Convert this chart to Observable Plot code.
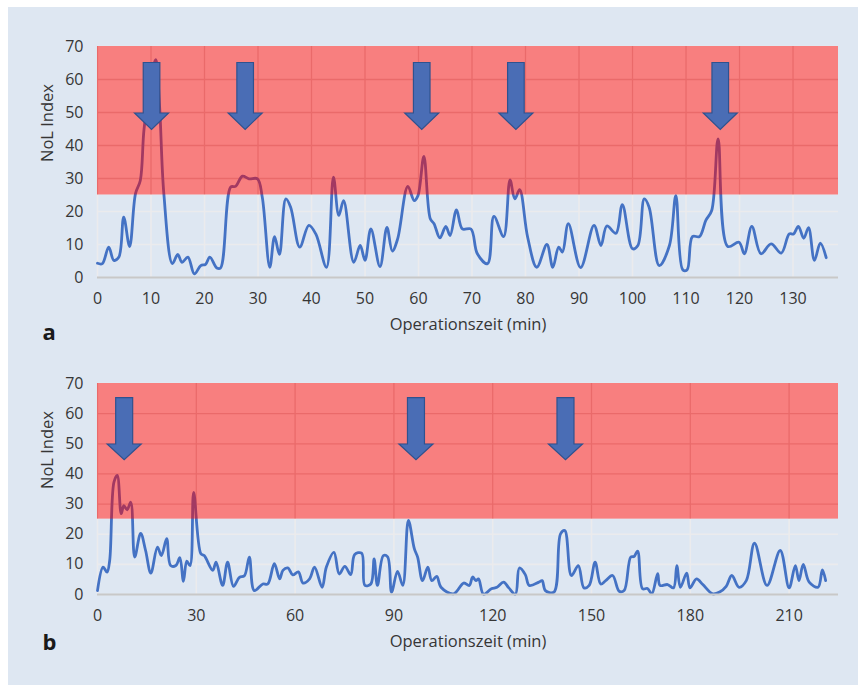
<!DOCTYPE html>
<html>
<head>
<meta charset="utf-8">
<script src="https://cdn.jsdelivr.net/npm/d3@7"></script>
<script src="https://cdn.jsdelivr.net/npm/@observablehq/plot@0.6"></script>
<style>
  html, body { margin: 0; padding: 0; background: #ffffff; }
  #fig { position: relative; width: 858px; height: 685px; background: #ffffff; overflow: hidden; }
  #bg { position: absolute; left: 8px; top: 7px; width: 850px; height: 678px; background: #dee7f2; }
  .panel { position: absolute; left: 0; }
</style>
</head>
<body>
<div id="fig"><div id="bg"></div><div id="pa" class="panel" style="top:0px"></div><div id="pb" class="panel" style="top:345px"></div></div>
<script>
// ---------- data ----------
const xLabel = "Operationszeit (min)";
const yLabel = "NoL Index";
const threshold = 25;
const yTicks = [0, 10, 20, 30, 40, 50, 60, 70];

// Panel a
const xTicksA = [0, 10, 20, 30, 40, 50, 60, 70, 80, 90, 100, 110, 120, 130];
const timeA = [0, 0.9, 2.1, 3.05, 4.0, 4.9, 6.0, 7.1, 8.0, 8.7, 10.0, 10.9, 11.6, 12.4, 14.0, 15.0, 15.8, 16.9, 18.1, 19.3, 20.2, 21.0, 22.3, 23.0, 24.9, 25.8, 27.1, 28.3, 29.9, 30.8, 32.2, 33.1, 34.0, 35.2, 36.1, 37.8, 39.5, 40.8, 42.8, 44.1, 45.1, 46.0, 47.9, 49.1, 50.0, 51.1, 52.8, 54.1, 55.1, 56.1, 58.0, 59.2, 59.9, 61.0, 62.2, 62.9, 64.0, 65.1, 65.9, 67.1, 68.2, 69.8, 71.0, 72.9, 74.1, 75.9, 77.1, 78.0, 78.9, 80.4, 82.1, 84.0, 85.1, 86.2, 86.9, 88.0, 90.3, 92.8, 94.1, 95.2, 96.9, 98.1, 100.0, 101.0, 102.2, 103.1, 105.0, 106.9, 108.1, 109.4, 110.2, 111.2, 112.5, 113.7, 114.8, 116.0, 117.8, 119.9, 120.9, 122.3, 124.0, 125.9, 127.8, 129.3, 130.1, 131.0, 132.0, 132.9, 134.0, 135.1, 136.2];
const nolA = [4.3, 4.2, 9.2, 5.2, 6.2, 18.3, 9.4, 25.4, 29.4, 45, 60, 66, 52, 25.4, 4.2, 7.0, 4.6, 6.2, 1.1, 3.6, 4.0, 6.2, 2.9, 2.9, 27.4, 27.6, 30.7, 29.9, 29.9, 24.3, 3.1, 12.4, 7.0, 23.8, 21.3, 9.2, 15.8, 13.2, 3.1, 30.4, 18.8, 23.3, 4.6, 9.7, 5.2, 14.7, 3.3, 15.2, 8.0, 11.7, 27.6, 23.3, 24.8, 36.7, 17.8, 16.3, 12.0, 15.5, 12.7, 20.5, 14.7, 14.7, 7.2, 4.2, 18.5, 12.4, 29.6, 23.8, 26.6, 12.2, 3.1, 10.0, 3.1, 9.2, 7.7, 16.3, 3.0, 15.8, 9.7, 15.6, 13.4, 22.1, 8.7, 9.7, 23.8, 21.3, 3.6, 9.7, 24.8, 2.3, 2.3, 12.4, 12.4, 17.3, 20.3, 42.0, 9.4, 10.7, 7.2, 15.5, 7.2, 10.2, 7.4, 13.2, 13.2, 15.5, 11.9, 15.1, 5.2, 10.4, 6.0];
const arrowsA = [10.1, 27.6, 60.6, 78.2, 116.4];

// Panel b
const xTicksB = [0, 30, 60, 90, 120, 150, 180, 210];
const timeB = [0, 1.7, 2.9, 3.7, 5.0, 6.0, 7.2, 8.0, 9.0, 10.1, 11.3, 13.1, 14.6, 16.2, 18.2, 19.4, 21.0, 22.2, 23.8, 25.0, 26.1, 27.1, 28.1, 29.2, 31.4, 32.4, 35.0, 36.0, 38.0, 39.5, 41.3, 43.1, 44.6, 46.1, 47.6, 50.2, 51.7, 53.7, 55.3, 56.3, 57.8, 59.3, 61.0, 62.4, 64.4, 65.9, 68.2, 69.5, 71.8, 73.4, 75.1, 76.9, 78.1, 80.2, 81.2, 83.0, 84.0, 85.0, 86.8, 88.1, 89.3, 91.1, 92.7, 94.4, 96.2, 97.2, 98.7, 100.3, 101.5, 103.0, 104.3, 108.1, 111.2, 112.9, 113.9, 114.9, 115.7, 117.2, 119.6, 121.3, 123.3, 124.9, 126.9, 128.1, 129.9, 131.1, 134.0, 135.0, 136.0, 138.6, 140.6, 141.9, 143.9, 146.0, 147.7, 149.3, 151.1, 152.8, 154.3, 156.4, 158.4, 159.9, 161.9, 162.9, 164.0, 165.5, 167.0, 168.3, 170.1, 170.8, 173.1, 174.9, 175.9, 177.0, 178.9, 179.9, 181.9, 183.8, 186.8, 188.9, 190.9, 192.6, 194.8, 197.0, 199.5, 203.3, 207.3, 210.0, 211.9, 213.0, 214.3, 216.1, 218.8, 220.1, 221.1];
const nolB = [1.3, 9.1, 7.4, 11.3, 37.3, 39.5, 26.8, 29.5, 28.1, 30.6, 12.4, 20.3, 14.6, 7.1, 15.7, 12.9, 18.5, 9.6, 9.6, 12.2, 4.4, 11.1, 9.6, 33.9, 13.5, 12.9, 8.0, 10.7, 3.0, 10.7, 2.7, 5.7, 6.2, 12.4, 1.3, 3.5, 3.5, 10.2, 5.2, 8.0, 8.8, 6.5, 7.5, 3.8, 5.2, 9.1, 2.4, 9.1, 14.0, 6.8, 9.3, 6.6, 13.3, 13.7, 3.0, 3.5, 11.8, 3.0, 12.9, 12.5, 0.8, 7.7, 3.0, 24.6, 15.2, 12.4, 4.6, 9.1, 4.6, 6.0, 2.4, 0.2, 3.8, 3.0, 5.8, 4.6, 5.2, 0.1, 1.9, 2.4, 4.1, 2.2, 0.1, 8.8, 6.6, 3.0, 4.1, 4.6, 1.3, 0.8, 20.1, 21.2, 6.3, 9.6, 2.2, 3.0, 10.7, 3.5, 4.6, 6.3, 1.1, 1.3, 12.4, 12.6, 14.4, 1.9, 2.0, 0.2, 6.9, 3.0, 3.3, 2.2, 9.6, 2.4, 7.1, 2.2, 5.2, 3.3, 0.2, 0.8, 2.7, 6.3, 2.4, 4.6, 17.0, 3.0, 14.6, 2.2, 9.6, 4.6, 10.0, 4.1, 2.4, 8.2, 4.6];
const arrowsB = [8.1, 96.7, 142.1];

// ---------- styling ----------
const FONT = "'Open Sans', 'Noto Sans', sans-serif";
const lineColor = "#4472c4";
const gridColor = "#ebebed";
const textColor = "#363636";
const arrowLevel = 55;

function arrowSymbol(h, head, hw, sw) {
  return {
    draw(ctx) {
      ctx.moveTo(-sw, -h);
      ctx.lineTo(sw, -h);
      ctx.lineTo(sw, head);
      ctx.lineTo(hw, head);
      ctx.lineTo(0, h);
      ctx.lineTo(-hw, head);
      ctx.lineTo(-sw, head);
      ctx.closePath();
    }
  };
}

function panel({time, nol, xTicks, xMax, arrows, tag, height, marginTop, marginBottom, sym, tagDy}) {
  const data = time.map((t, i) => ({t, v: nol[i]}));
  const redTicks = yTicks.filter(d => d > threshold && d < 70);
  const zone = {x1: () => 0, x2: () => xMax, y1: () => threshold, y2: () => 70};
  return Plot.plot({
    width: 858,
    height,
    marginTop,
    marginBottom,
    marginLeft: 97,
    marginRight: 20,
    style: {background: "transparent", fontFamily: FONT, fontSize: "16px", color: textColor, overflow: "visible"},
    x: {domain: [0, xMax], ticks: xTicks, tickSize: 0, tickPadding: 15, label: null, tickFormat: d => String(d)},
    y: {domain: [0, 70], ticks: yTicks, tickSize: 0, tickPadding: 14, label: null, tickFormat: d => String(d)},
    marks: [
      Plot.ruleX(xTicks, {stroke: gridColor, strokeWidth: 1.6}),
      Plot.ruleY(yTicks, {stroke: gridColor, strokeWidth: 1.6}),
      // alarm zone: light base + translucent red on top (so the line shows through in purple)
      Plot.rect([0], {...zone, fill: "#f1ffff"}),
      Plot.ruleX(xTicks, {y1: threshold, y2: 70, stroke: "#d4d4d4", strokeWidth: 1.3}),
      Plot.ruleY(redTicks, {stroke: "#d4d4d4", strokeWidth: 1.3}),
      Plot.line(data, {x: "t", y: "v", stroke: lineColor, strokeWidth: 2.8, curve: "catmull-rom"}),
      Plot.rect([0], {...zone, fill: "#ff0000", fillOpacity: 0.5}),
      Plot.ruleY([0], {stroke: "#c8c8c8", strokeWidth: 2}),
      Plot.dot(arrows, {x: d => d, y: () => arrowLevel, symbol: sym, fill: "#4a6db5", stroke: "#2f528f", strokeWidth: 1.2}),
      Plot.text([xLabel], {frameAnchor: "bottom", dy: 52, text: d => d, fontSize: 16.5, fill: textColor}),
      Plot.text([yLabel], {frameAnchor: "left", dx: -50, rotate: -90, text: d => d, fontSize: 16.5, fill: textColor}),
      Plot.text([tag], {frameAnchor: "bottom-left", dx: -55, dy: tagDy, text: d => d, fontSize: 22, fontWeight: "bold", fill: "#1a1a1a", textAnchor: "start"})
    ]
  });
}

document.getElementById("pa").appendChild(panel({
  time: timeA, nol: nolA, xTicks: xTicksA, xMax: 138.5, arrows: arrowsA, tag: "a",
  height: 345, marginTop: 46, marginBottom: 68,
  sym: arrowSymbol(33.5, 17, 17, 8.3), tagDy: 62
}));
document.getElementById("pb").appendChild(panel({
  time: timeB, nol: nolB, xTicks: xTicksB, xMax: 225, arrows: arrowsB, tag: "b",
  height: 340, marginTop: 38, marginBottom: 91,
  sym: arrowSymbol(31, 15.3, 17, 8.5), tagDy: 55
}));
</script>
</body>
</html>
